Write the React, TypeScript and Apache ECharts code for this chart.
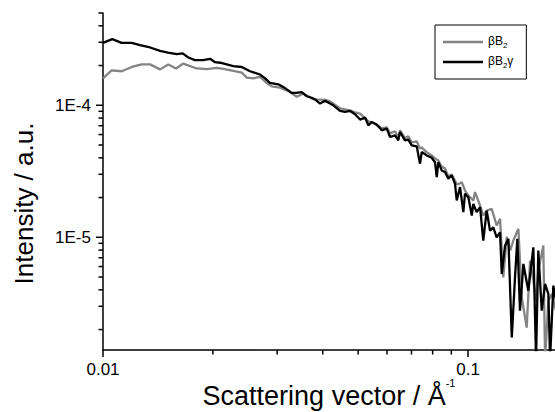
import React, { useEffect, useRef } from "react";
import * as echarts from "echarts";

// ---- data ----
const qBeta = [
  0.01, 0.01056, 0.01125, 0.01199, 0.01277, 0.01346, 0.01433, 0.0151, 0.01585, 0.0166,
  0.01806, 0.01924, 0.0205, 0.02137, 0.02275, 0.02399, 0.02476, 0.02581, 0.02692, 0.02808,
  0.02899, 0.03054, 0.03219, 0.03394, 0.03538, 0.03769, 0.04058, 0.04188, 0.04276, 0.04461,
  0.04604, 0.04751, 0.04904, 0.05061, 0.05223, 0.05333, 0.05448, 0.05623, 0.05803, 0.05989,
  0.06116, 0.0631, 0.06442, 0.06512, 0.06721, 0.06862, 0.07011, 0.07236, 0.07388, 0.07467,
  0.07707, 0.07954, 0.08121, 0.08292, 0.08472, 0.0865, 0.08832, 0.09024, 0.09213, 0.09313,
  0.09509, 0.09611, 0.09812, 0.1002, 0.1034, 0.1045, 0.1079, 0.1101, 0.1125, 0.1161,
  0.1198, 0.1224, 0.1249, 0.1277, 0.1304, 0.1331, 0.1374, 0.1404, 0.1448, 0.1479,
  0.151, 0.1536, 0.1558, 0.1608, 0.1626, 0.166, 0.1696, 0.1742,
];
const iBeta = [
  1.6e-4, 1.84e-4, 1.81e-4, 1.95e-4, 2.04e-4, 2.04e-4, 1.87e-4, 2.04e-4, 1.9e-4, 2.07e-4,
  1.9e-4, 1.88e-4, 1.92e-4, 1.89e-4, 1.82e-4, 1.77e-4, 1.62e-4, 1.6e-4, 1.64e-4, 1.48e-4,
  1.39e-4, 1.36e-4, 1.28e-4, 1.16e-4, 1.23e-4, 1.11e-4, 1.1e-4, 1.07e-4, 1.03e-4, 9.49e-5,
  9.32e-5, 9.16e-5, 8.85e-5, 8.65e-5, 7.97e-5, 7.56e-5, 7.43e-5, 7.05e-5, 6.69e-5, 6.81e-5,
  6.13e-5, 6.35e-5, 5.71e-5, 6.46e-5, 5.62e-5, 5.82e-5, 5.24e-5, 5.33e-5, 4.69e-5, 4.8e-5,
  4.4e-5, 4.17e-5, 3.96e-5, 3.82e-5, 3.44e-5, 3.32e-5, 2.89e-5, 2.99e-5, 2.69e-5, 2.51e-5,
  2.56e-5, 2.62e-5, 2.26e-5, 2.07e-5, 1.9e-5, 2.2e-5, 1.74e-5, 1.46e-5, 1.59e-5, 1.64e-5,
  1.23e-5, 1.38e-5, 4.97e-6, 1.01e-5, 7.93e-6, 9.44e-6, 1.16e-5, 3.5e-6, 2.07e-6, 6.65e-6,
  4.69e-6, 3.31e-6, 5.59e-6, 8.65e-6, 1.2e-6, 3.31e-6, 3.72e-6, 2.78e-6,
];
const qBetaGamma = [
  0.01, 0.0106, 0.01125, 0.01199, 0.01263, 0.01346, 0.01433, 0.01507, 0.01592, 0.01653,
  0.01713, 0.01787, 0.01879, 0.01965, 0.02028, 0.02093, 0.02275, 0.02399, 0.02528, 0.02692,
  0.02779, 0.02868, 0.03022, 0.03152, 0.03289, 0.03379, 0.03503, 0.03615, 0.03731, 0.03809,
  0.03932, 0.04058, 0.04188, 0.04276, 0.04461, 0.04604, 0.04751, 0.04904, 0.05061, 0.05223,
  0.05333, 0.05448, 0.05623, 0.05803, 0.05989, 0.06116, 0.0631, 0.06442, 0.06512, 0.06721,
  0.06862, 0.07011, 0.07236, 0.07388, 0.07467, 0.07707, 0.07954, 0.08121, 0.08209, 0.08292,
  0.08472, 0.0865, 0.08832, 0.09024, 0.09213, 0.09313, 0.09509, 0.09709, 0.09812, 0.1002,
  0.1024, 0.1034, 0.1056, 0.1079, 0.1101, 0.1125, 0.1149, 0.1173, 0.1198, 0.1224,
  0.1237, 0.1263, 0.129, 0.1318, 0.1345, 0.1365, 0.1388, 0.1418, 0.1463, 0.151,
  0.1536, 0.1558, 0.1592, 0.1626, 0.166, 0.1678, 0.1713, 0.1742,
];
const iBetaGamma = [
  2.97e-4, 3.17e-4, 2.97e-4, 2.97e-4, 2.86e-4, 2.74e-4, 2.58e-4, 2.51e-4, 2.44e-4, 2.47e-4,
  2.3e-4, 2.2e-4, 2.2e-4, 2.25e-4, 2.12e-4, 2.1e-4, 1.98e-4, 1.95e-4, 1.81e-4, 1.71e-4,
  1.6e-4, 1.48e-4, 1.44e-4, 1.35e-4, 1.24e-4, 1.24e-4, 1.26e-4, 1.17e-4, 1.14e-4, 1.11e-4,
  1.03e-4, 1.08e-4, 1.03e-4, 1.0e-4, 9.05e-5, 8.9e-5, 9.05e-5, 8.55e-5, 7.79e-5, 8.07e-5,
  7.05e-5, 7.47e-5, 7.14e-5, 6.46e-5, 6.65e-5, 5.75e-5, 5.92e-5, 5.42e-5, 6.27e-5, 5.42e-5,
  5.49e-5, 4.97e-5, 4.88e-5, 3.61e-5, 4.42e-5, 4.17e-5, 4.0e-5, 3.7e-5, 2.86e-5, 3.71e-5,
  3.21e-5, 3.12e-5, 2.78e-5, 2.94e-5, 2.54e-5, 1.9e-5, 2.4e-5, 1.55e-5, 2.14e-5, 2.01e-5,
  1.46e-5, 1.79e-5, 1.55e-5, 1.69e-5, 9.44e-6, 1.59e-5, 1.12e-5, 1.19e-5, 1.0e-5, 1.09e-5,
  5.27e-6, 8.65e-6, 9.72e-6, 1.74e-6, 4.97e-6, 9.72e-6, 2.78e-6, 6.28e-6, 3.94e-6, 8.4e-6,
  1.2e-6, 7.93e-6, 2.78e-6, 4.43e-6, 3.72e-6, 1.2e-6, 4.3e-6, 3.31e-6,
];

const seriesNames = ["βB2", "βB2γ"];
const xMajorTicks = [0.01, 0.1];
const xMinorTicks = [0.02, 0.03, 0.04, 0.05, 0.06, 0.07, 0.08, 0.09];
const yMajorTicks = [1e-5, 1e-4];
const yMinorTicks = [
  2e-6, 3e-6, 4e-6, 5e-6, 6e-6, 7e-6, 8e-6, 9e-6,
  2e-5, 3e-5, 4e-5, 5e-5, 6e-5, 7e-5, 8e-5, 9e-5,
  2e-4, 3e-4, 4e-4, 5e-4,
];
const X_MIN = 0.01;
const X_MAX = 0.1731;
const Y_MIN = 1.4e-6;
const Y_MAX = 5e-4;

const FONT = "'Liberation Sans', Arial, sans-serif";
const TICK_COLOR = "#000";

function isDecade(v: number) {
  const e = Math.log10(v);
  return Math.abs(e - Math.round(e)) < 1e-6;
}

export default function App() {
  const ref = useRef<HTMLDivElement>(null);
  useEffect(() => {
    if (!ref.current) return;
    const chart = echarts.init(ref.current, undefined, { renderer: "svg" });

    const option: any = {
      animation: false,
      backgroundColor: "#fff",
      textStyle: { fontFamily: FONT },
      grid: { left: 103, right: 0, top: 13, bottom: 62, containLabel: false, outerBoundsMode: "none" },
      legend: {
        data: seriesNames,
        orient: "vertical",
        left: 435,
        top: 25,
        padding: [9, 13, 10, 8],
        itemGap: 5,
        itemWidth: 40,
        itemHeight: 2.5,
        icon: "rect",
        borderColor: "#000",
        borderWidth: 1,
        backgroundColor: "#fff",
        selectedMode: false,
        formatter: (name: string) =>
          name === "βB2" ? "{b|βB}{s|2}" : "{b|βB}{s|2}{b|γ}",
        textStyle: {
          fontFamily: FONT,
          color: "#000",
          rich: {
            b: { fontFamily: FONT, fontSize: 12, lineHeight: 14, verticalAlign: "top", color: "#000" },
            s: { fontFamily: FONT, fontSize: 8, lineHeight: 10, padding: [7, 0, 0, 0], verticalAlign: "bottom", color: "#000" },
          },
        },
      },
      xAxis: {
        type: "log",
        logBase: 10,
        min: X_MIN,
        max: X_MAX,
        name: "Scattering vector / Å{sup|-1}",
        nameLocation: "middle",
        nameGap: 27,
        nameMoveOverlap: false,
        nameTextStyle: {
          fontFamily: FONT,
          fontSize: 27,
          color: "#000",
          lineHeight: 38,
          rich: {
            sup: { fontFamily: FONT, fontSize: 11, lineHeight: 11, verticalAlign: "top", color: "#000" },
          },
        },
        axisLine: { show: true, lineStyle: { color: "#000", width: 1.5 } },
        axisTick: { show: false },
        splitLine: { show: false },
        minorTick: { show: false },
        axisLabel: {
          fontFamily: FONT,
          fontSize: 17,
          color: "#000",
          margin: 11,
          formatter: (v: number) => (isDecade(v) ? String(Number(v.toPrecision(3))) : ""),
        },
      },
      yAxis: {
        type: "log",
        logBase: 10,
        min: Y_MIN,
        max: Y_MAX,
        name: "Intensity / a.u.",
        nameLocation: "middle",
        nameGap: 66,
        nameRotate: 90,
        nameTextStyle: {
          fontFamily: FONT,
          fontSize: 26,
          color: "#000",
          padding: [0, 44, 0, 0],
        },
        axisLine: { show: true, lineStyle: { color: "#000", width: 1.5 } },
        axisTick: { show: false },
        splitLine: { show: false },
        minorTick: { show: false },
        axisLabel: {
          fontFamily: FONT,
          fontSize: 17,
          color: "#000",
          margin: 12,
          formatter: (v: number) => (isDecade(v) ? "1E" + Math.round(Math.log10(v)) : ""),
        },
      },
      series: [
        {
          name: seriesNames[0],
          type: "line",
          data: qBeta.map((q, i) => [q, iBeta[i]]),
          symbol: "none",
          lineStyle: { color: "#848484", width: 2.3 },
          itemStyle: { color: "#848484" },
          clip: true,
          z: 2,
        },
        {
          name: seriesNames[1],
          type: "line",
          data: qBetaGamma.map((q, i) => [q, iBetaGamma[i]]),
          symbol: "none",
          lineStyle: { color: "#000", width: 2.3 },
          itemStyle: { color: "#000" },
          clip: true,
          z: 3,
        },
      ],
    };
    chart.setOption(option);

    // axis ticks (major + minor) placed through the chart's own log scales
    const ticks: any[] = [];
    const tickLine = (x1: number, y1: number, x2: number, y2: number) => ({
      type: "line",
      shape: { x1, y1, x2, y2 },
      style: { stroke: TICK_COLOR, lineWidth: 1.5 },
    });
    const addX = (vals: number[], len: number) =>
      vals.forEach((v) => {
        const p = chart.convertToPixel({ gridIndex: 0 }, [v, Y_MIN]) as number[];
        ticks.push(tickLine(p[0], p[1], p[0], p[1] + len));
      });
    const addY = (vals: number[], len: number) =>
      vals.forEach((v) => {
        const p = chart.convertToPixel({ gridIndex: 0 }, [X_MIN, v]) as number[];
        ticks.push(tickLine(p[0] - len, p[1], p[0], p[1]));
      });
    addX(xMinorTicks, 4.5);
    addX(xMajorTicks, 7);
    addY(yMinorTicks, 4.5);
    addY(yMajorTicks, 7);
    chart.setOption({ graphic: ticks });

    return () => chart.dispose();
  }, []);

  return (
    <div
      ref={ref}
      style={{ position: "absolute", left: 0, top: 0, width: 555, height: 412, background: "#fff" }}
    />
  );
}
